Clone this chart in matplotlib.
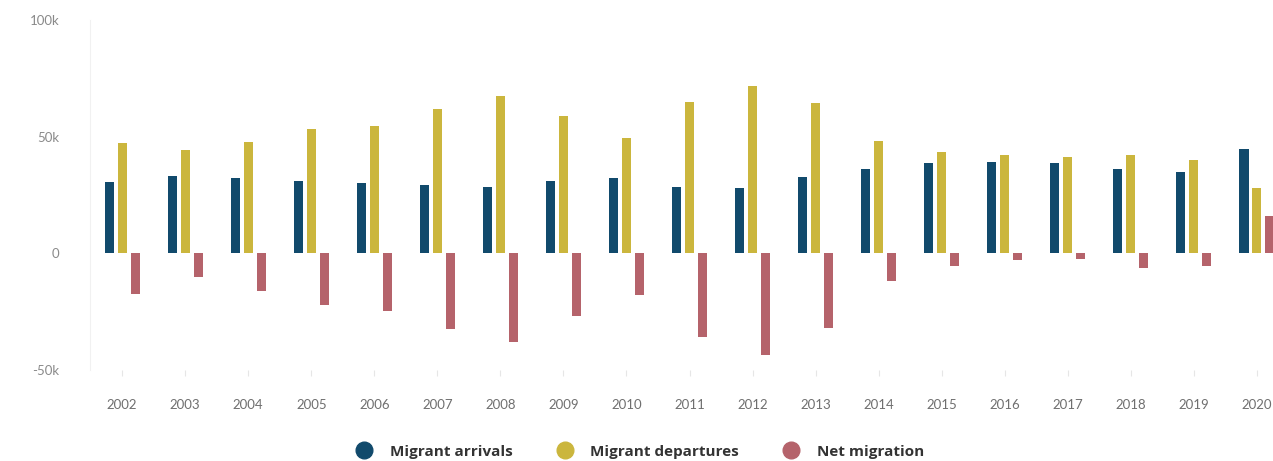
import numpy as np
import matplotlib
matplotlib.use('Agg')
import matplotlib.pyplot as plt
from matplotlib.lines import Line2D

years = ['2002', '2003', '2004', '2005', '2006', '2007', '2008', '2009', '2010', '2011',
         '2012', '2013', '2014', '2015', '2016', '2017', '2018', '2019', '2020']
arrivals = [30.5, 33.2, 32.2, 30.9, 30.2, 29.3, 28.5, 31.0, 32.3, 28.6,
            27.9, 32.9, 36.3, 38.5, 39.2, 38.5, 36.0, 34.9, 44.6]
departures = [47.2, 44.2, 47.8, 53.2, 54.6, 61.8, 67.3, 58.7, 49.6, 65.0,
              71.8, 64.2, 48.2, 43.2, 42.1, 41.1, 42.1, 39.9, 27.9]
net = [-17.4, -10.0, -15.9, -22.3, -24.8, -32.3, -37.9, -27.0, -17.7, -35.9,
       -43.5, -31.9, -11.9, -5.4, -2.9, -2.6, -6.2, -5.4, 16.0]

colors = {'arr': '#114a6c', 'dep': '#cbb63d', 'net': '#b5636b'}
series_names = ['Migrant arrivals', 'Migrant departures', 'Net migration']

plt.rcParams['font.family'] = ['Lato', 'DejaVu Sans']

fig = plt.figure(figsize=(12.73, 4.61), dpi=100)
ax = fig.add_axes([0.0707, 0.197, 0.929, 0.76])

x = np.arange(len(years))
w = 0.145
off = 0.205
ax.bar(x - off, np.array(arrivals) * 1000, w, color=colors['arr'])
ax.bar(x, np.array(departures) * 1000, w, color=colors['dep'])
ax.bar(x + off, np.array(net) * 1000, w, color=colors['net'])

ax.set_ylim(-50000, 100000)
ax.set_xlim(-0.51, 18.25)
ax.set_yticks([-50000, 0, 50000, 100000])
ax.set_yticklabels(['-50k', '0', '50k', '100k'])
ax.set_xticks(x)
ax.set_xticklabels(years)
ax.tick_params(axis='y', length=0, pad=22, labelsize=9.5, labelcolor='#8a8a8a')
ax.tick_params(axis='x', length=4, color='#e6e6e6', pad=17, labelsize=9.5, labelcolor='#6f6f6f')
for s in ['top', 'right', 'bottom']:
    ax.spines[s].set_visible(False)
ax.spines['left'].set_color('#f1f1f1')

handles = [Line2D([], [], marker='o', linestyle='none', markersize=12, color=c)
           for c in [colors['arr'], colors['dep'], colors['net']]]
fig.legend(handles, series_names, loc='center', bbox_to_anchor=(0.5, 0.02), ncol=3,
           frameon=False, columnspacing=2.4, handletextpad=0.7,
           prop={'family': 'Open Sans', 'weight': 'bold', 'size': 11}, labelcolor='#333333')

fig.savefig('out.png', dpi=100)
